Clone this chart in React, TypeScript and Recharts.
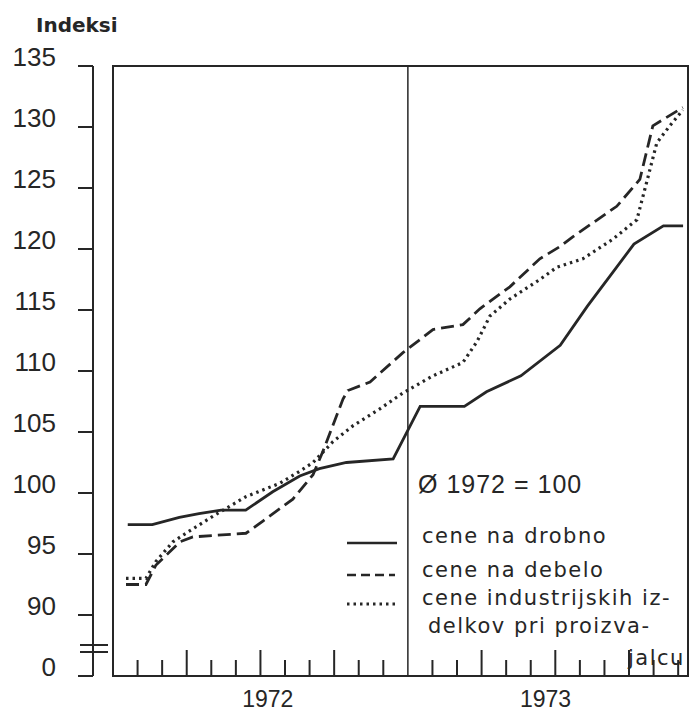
import React from 'react';
import { LineChart, Line, XAxis, YAxis, ReferenceLine, ReferenceArea } from 'recharts';

// month positions (0 = start of 1972) and index values
const drobnoMonths = [0.6, 1.6, 2.7, 3.5, 4.4, 5.4, 6.5, 7.6, 8.4, 9.5, 11.4, 12.5, 14.3, 15.2, 16.6, 18.2, 19.3, 21.2, 22.4, 23.2];
const drobnoValues = [97.4, 97.4, 98.0, 98.3, 98.6, 98.6, 100.1, 101.4, 102.0, 102.5, 102.8, 107.1, 107.1, 108.3, 109.6, 112.1, 115.3, 120.4, 121.9, 121.9];

const debeloMonths = [0.53, 1.34, 1.75, 2.73, 3.25, 5.41, 6.1, 7.32, 8.14, 8.54, 9.36, 9.56, 10.46, 11.8, 13.02, 14.24, 14.93, 16.15, 17.37, 18.19, 18.71, 20.5, 21.44, 21.97, 22.38, 23.19];
const debeloValues = [92.5, 92.5, 94.1, 96.0, 96.4, 96.7, 97.7, 99.5, 101.5, 103.4, 107.7, 108.4, 109.1, 111.5, 113.4, 113.8, 115.1, 116.9, 119.2, 120.2, 121.0, 123.5, 125.7, 130.1, 130.6, 131.6];

const industrMonths = [0.53, 1.34, 1.75, 2.44, 2.97, 4.07, 5.41, 6.79, 7.61, 8.14, 8.95, 9.76, 10.86, 11.8, 13.02, 14.24, 14.81, 15.34, 16.15, 17.37, 18.06, 19.12, 20.34, 21.32, 21.85, 22.13, 22.66, 23.19];
const industrValues = [93.0, 93.0, 94.4, 96.0, 96.7, 98.1, 99.7, 100.8, 101.8, 102.5, 104.2, 105.5, 106.9, 108.2, 109.6, 110.7, 112.4, 114.5, 115.9, 117.5, 118.5, 119.2, 120.8, 122.4, 126.5, 128.7, 130.1, 131.4];

// 85 stands in for the broken-axis "0"
const valueTicks = [85, 90, 95, 100, 105, 110, 115, 120, 125, 130, 135];
const monthTicks = [1, 2, 3, 4, 5, 6, 7, 8, 9, 10, 11, 13, 14, 15, 16, 17, 18, 19, 20, 21, 22, 23];
const quarterTicks = [3, 6, 9, 15, 18, 21];
const yearLabels = ['1972', '1973'];
const yearPositions = [6.3, 17.6];

const legendLabels = ['cene na drobno', 'cene na debelo', 'cene industrijskih iz-', 'delkov pri proizva-', 'jalcu'];

const INK = '#262626';
const NUM_FONT = '"Liberation Sans", Arial, sans-serif';
const TXT_FONT = '"DejaVu Sans", sans-serif';

const toPoints = (months: number[], values: number[]) => months.map((m, i) => ({ m, v: values[i] }));

const ValueTick = (props: any) => {
  const { x, y, payload } = props;
  const axisX = x + 37;
  const isZero = payload.value === 85;
  return (
    <g>
      <text x={x} y={y} textAnchor="end" fontFamily={NUM_FONT} fontSize={26} fill={INK}>
        {isZero ? '0' : payload.value}
      </text>
      {isZero && (
        <g stroke={INK} strokeWidth={2}>
          <line x1={axisX - 13} x2={axisX + 15} y1={y - 31} y2={y - 31} />
          <line x1={axisX - 13} x2={axisX + 15} y1={y - 24} y2={y - 24} />
        </g>
      )}
    </g>
  );
};

const MonthTick = (props: any) => {
  const { x, y, payload } = props;
  const yi = yearPositions.indexOf(payload.value);
  if (yi >= 0) {
    return (
      <text x={x} y={y + 31} textAnchor="middle" fontFamily={NUM_FONT} fontSize={23} fill={INK}>
        {yearLabels[yi]}
      </text>
    );
  }
  const len = quarterTicks.includes(payload.value) ? 26 : 16;
  return <line x1={x} x2={x} y1={y} y2={y - len} stroke={INK} strokeWidth={2} />;
};

export default function App() {
  return (
    <div style={{ position: 'absolute', left: 0, top: 0, width: 697, height: 715, background: '#fff' }}>
      <LineChart width={697} height={715} margin={{ top: 66, right: 9, bottom: 0, left: 0 }}>
        <XAxis
          xAxisId="m"
          type="number"
          dataKey="m"
          domain={[0, 23.4]}
          allowDataOverflow
          ticks={[...monthTicks, ...yearPositions]}
          interval={0}
          tick={<MonthTick />}
          tickLine={false}
          tickSize={0}
          tickMargin={0}
          height={39}
          axisLine={{ stroke: INK, strokeWidth: 2 }}
        />
        <YAxis
          yAxisId="v"
          width={93}
          type="number"
          domain={[85, 135]}
          ticks={valueTicks}
          interval={0}
          tick={<ValueTick />}
          tickSize={15}
          tickMargin={22}
          tickLine={{ stroke: INK, strokeWidth: 2 }}
          axisLine={{ stroke: INK, strokeWidth: 2 }}
        />
        <YAxis yAxisId="pad" width={20} type="number" domain={[85, 135]} tick={false} tickLine={false} axisLine={false} />
        <ReferenceArea xAxisId="m" yAxisId="v" x1={0} x2={23.4} y1={85} y2={135} fill="none" stroke={INK} strokeWidth={2} fillOpacity={0} />
        <ReferenceLine xAxisId="m" yAxisId="v" x={12} stroke={INK} strokeWidth={1.5} />
        <Line xAxisId="m" yAxisId="v" data={toPoints(drobnoMonths, drobnoValues)} dataKey="v" type="linear" stroke={INK} strokeWidth={2.8} dot={false} isAnimationActive={false} />
        <Line xAxisId="m" yAxisId="v" data={toPoints(debeloMonths, debeloValues)} dataKey="v" type="linear" stroke={INK} strokeWidth={2.8} strokeDasharray="13 6" dot={false} isAnimationActive={false} />
        <Line xAxisId="m" yAxisId="v" data={toPoints(industrMonths, industrValues)} dataKey="v" type="linear" stroke={INK} strokeWidth={3.2} strokeDasharray="2.5 4" dot={false} isAnimationActive={false} />
      </LineChart>
      <svg width={697} height={715} style={{ position: 'absolute', left: 0, top: 0, pointerEvents: 'none' }}>
        <text x={36} y={32} fontFamily={TXT_FONT} fontWeight="bold" fontSize={20} fill={INK}>Indeksi</text>
        <text x={418} y={493} fontFamily={NUM_FONT} fontSize={25} fill={INK} letterSpacing={1}>Ø 1972 = 100</text>
        <g stroke={INK} strokeWidth={2.5}>
          <line x1={347} x2={397} y1={543} y2={543} />
          <line x1={347} x2={395} y1={575} y2={575} strokeDasharray="9 5" />
          <line x1={347} x2={395} y1={604} y2={604} strokeWidth={3} strokeDasharray="2.5 4" />
        </g>
        <g fontFamily={TXT_FONT} fontSize={21} fill={INK} letterSpacing={1.5}>
          <text x={422} y={543}>{legendLabels[0]}</text>
          <text x={422} y={577}>{legendLabels[1]}</text>
          <text x={422} y={605}>{legendLabels[2]}</text>
          <text x={428} y={633}>{legendLabels[3]}</text>
          <text x={628} y={665}>{legendLabels[4]}</text>
        </g>
      </svg>
    </div>
  );
}
